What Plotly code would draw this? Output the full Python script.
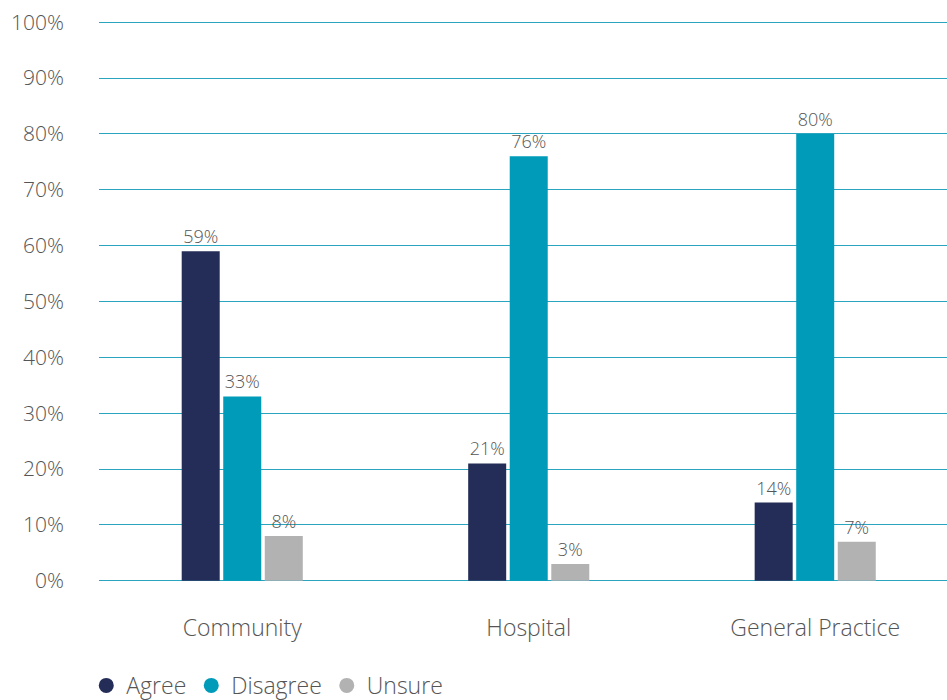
import plotly.graph_objects as go

categories = ["Community", "Hospital", "General Practice"]
agree = [59, 21, 14]
disagree = [33, 76, 80]
unsure = [8, 3, 7]
y_ticks = [0, 10, 20, 30, 40, 50, 60, 70, 80, 90, 100]
y_tick_labels = [f"{v}%" for v in y_ticks]

series = [
    ("Agree", agree, "#232d57"),
    ("Disagree", disagree, "#009bb9"),
    ("Unsure", unsure, "#b2b2b2"),
]

FONT = "'Open Sans', 'Noto Sans', sans-serif"
TEXT_COLOR = "#555555"

fig = go.Figure()
for name, vals, color in series:
    fig.add_trace(go.Bar(
        x=categories, y=vals, name=name,
        marker=dict(color=color, line=dict(width=0)),
        text=[f"{v}%" for v in vals],
        textposition="outside",
        textfont=dict(size=18, color=TEXT_COLOR, family=FONT, weight=300),
        cliponaxis=False,
        showlegend=False,
    ))
    # circular legend markers
    fig.add_trace(go.Scatter(
        x=[None], y=[None], mode="markers", name=name,
        marker=dict(symbol="circle", size=15, color=color),
        showlegend=True,
    ))

fig.update_layout(
    width=947, height=700,
    margin=dict(l=99, r=0, t=20, b=117, autoexpand=False),
    paper_bgcolor="white", plot_bgcolor="white",
    barmode="group", bargap=0.565, bargroupgap=0.085,
    font=dict(family=FONT, color=TEXT_COLOR, size=21, weight=300),
    showlegend=True,
    legend=dict(
        orientation="h", x=-0.015, xanchor="left", y=-0.182, yanchor="middle",
        font=dict(size=23, color=TEXT_COLOR, family=FONT, weight=300),
        itemwidth=30, tracegroupgap=0,
    ),
    xaxis=dict(
        range=[-0.5, 2.46],
        showgrid=False, zeroline=False, showline=False, ticks="",
        tickfont=dict(size=23, color=TEXT_COLOR, weight=300), ticklabelstandoff=29,
    ),
    yaxis=dict(
        range=[-0.4, 100.4], tickvals=y_ticks, ticktext=y_tick_labels,
        showgrid=True, gridcolor="#2aa5c0", gridwidth=1,
        zeroline=False, showline=False, ticks="",
        tickfont=dict(size=21, color=TEXT_COLOR, weight=300), ticklabelstandoff=34,
    ),
)

fig.write_html("out.html")
